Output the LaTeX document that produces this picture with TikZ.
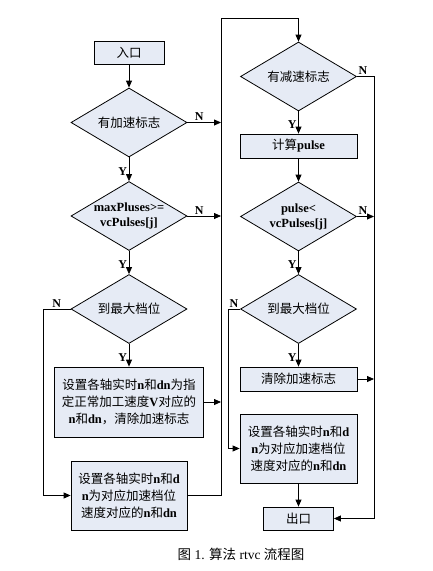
\documentclass[tikz,border=0pt]{standalone}
\usepackage{fontspec}
\setmainfont{Liberation Serif}
\newfontfamily\cjk{Noto Sans CJK SC}
\usetikzlibrary{shapes.geometric,arrows.meta}
\definecolor{boxfill}{HTML}{E6EBF5}
\newcommand\zh[1]{{\cjk\mdseries #1}}
\tikzset{
  proc/.style={draw, fill=boxfill, line width=0.8pt, inner sep=1pt, align=center,
    font=\fontsize{12.5}{17}\selectfont\bfseries},
  dec/.style={draw, fill=boxfill, diamond, aspect=1.68, line width=0.8pt, inner sep=0pt,
    minimum width=116pt, minimum height=69pt, align=center,
    font=\fontsize{12.5}{15}\selectfont\bfseries},
  arr/.style={-{Triangle[length=7pt,width=6pt]}, line width=0.8pt},
  lab/.style={font=\fontsize{12}{14}\selectfont\bfseries, inner sep=1.5pt},
  captext/.style={font=\fontsize{13.5}{16}\selectfont}
}

\begin{document}
\begin{tikzpicture}[x=1pt,y=-1pt]
  \useasboundingbox (0,0) rectangle (433,571);

  % left column
  \node[proc, minimum width=70pt, minimum height=23pt] (entry) at (129,52.5) {\zh{入口}};
  \node[dec] (accq) at (129,122.5) {\zh{有加速标志}};
  \node[dec] (maxq) at (129,216) {maxPluses>=\\vcPulses[j]};
  \node[dec] (topq) at (129,309) {\zh{到最大档位}};
  \node[proc, minimum width=149pt, minimum height=70pt] (setv) at (129,402)
    {\zh{设置各轴实时}n\zh{和}dn\zh{为指}\\\zh{定正常加工速度}V\zh{对应的}\\n\zh{和}dn\zh{，清除加速标志}};
  \node[proc, minimum width=116pt, minimum height=69pt] (setacc) at (129,495.5)
    {\zh{设置各轴实时}n\zh{和}d\\n\zh{为对应加速档位}\\\zh{速度对应的}n\zh{和}dn};

  % right column
  \node[dec] (decq) at (298.5,76.5) {\zh{有减速标志}};
  \node[proc, minimum width=117pt, minimum height=24pt] (calc) at (298.5,146) {\zh{计算}pulse};
  \node[dec] (pulseq) at (298.5,216.5) {pulse<\\vcPulses[j]};
  \node[dec] (topq2) at (298.5,309) {\zh{到最大档位}};
  \node[proc, minimum width=117pt, minimum height=24pt] (clear) at (298.5,379) {\zh{清除加速标志}};
  \node[proc, minimum width=117pt, minimum height=69pt] (setacc2) at (298.5,448.5)
    {\zh{设置各轴实时}n\zh{和}d\\n\zh{为对应加速档位}\\\zh{速度对应的}n\zh{和}dn};
  \node[proc, minimum width=70pt, minimum height=23pt] (exit) at (298.5,518.5) {\zh{出口}};

  \node[captext] (caption) at (241,554) {\zh{图} 1. \zh{算法} rtvc \zh{流程图}};

  % bus lines
  \coordinate (lbus) at (221,18);
  \coordinate (rbus) at (374,0);
  \coordinate (nl) at (43,0);
  \coordinate (nr) at (228,0);

  % connectors
  \draw[arr] (entry) -- (accq);
  \draw[arr] (accq) -- node[lab,left,pos=0.6]{Y} (maxq);
  \draw[arr] (maxq) -- node[lab,left,pos=0.6]{Y} (topq);
  \draw[arr] (topq) -- node[lab,left,pos=0.6]{Y} (setv);
  \draw[arr] (accq.east) -- node[lab,above,pos=0.35]{N} (accq.east -| lbus);
  \draw[arr] (maxq.east) -- node[lab,above,pos=0.35]{N} (maxq.east -| lbus);
  \draw[arr] (setv.east) -- (setv.east -| lbus);
  \draw[arr] (topq.west) -- node[lab,above]{N} (topq.west -| nl) |- (setacc.west);
  \draw[arr] (setacc.east) -| (lbus) -| (decq.north);

  \draw[arr] (decq) -- node[lab,left,pos=0.6]{Y} (calc);
  \draw[arr] (calc) -- (pulseq);
  \draw[arr] (pulseq) -- node[lab,left,pos=0.6]{Y} (topq2);
  \draw[arr] (topq2) -- node[lab,left,pos=0.6]{Y} (clear);
  \draw[arr] (decq.east) -- node[lab,above,pos=0.35]{N} (decq.east -| rbus) |- (exit.east);
  \draw[arr] (pulseq.east) -- node[lab,above,pos=0.35]{N} (pulseq.east -| rbus);
  \draw[arr] (clear.east) -- (clear.east -| rbus);
  \draw[arr] (topq2.west) -- node[lab,above]{N} (topq2.west -| nr) |- (setacc2.west);
  \draw[arr] (setacc2) -- (exit);
\end{tikzpicture}
\end{document}
